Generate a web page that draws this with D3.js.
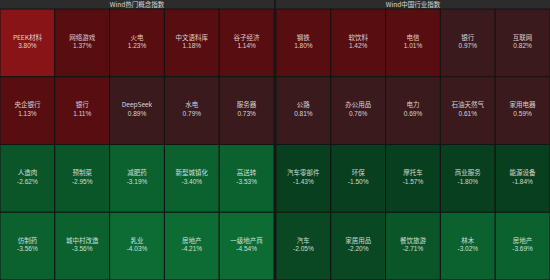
<!doctype html>
<html>
<head>
    <meta http-equiv="Content-type" content="text/html; charset=utf-8"/>
    <script src="https://d3js.org/d3.v7.min.js"></script>
    <style>
        body { margin: 0; background: #1a1a1a; }
        svg { display: block; }
        text { font-family: "Noto Sans CJK SC", "Noto Sans", sans-serif; }
        text.val { font-family: "Liberation Sans", "DejaVu Sans", sans-serif; }
    </style>
</head>
<body>
    <svg width="550" height="280"></svg>

    <script>
        // panel titles
        var titles = ["Wind热门概念指数", "Wind中国行业指数"];

        // left panel: hot concept indexes
        var conceptNames = ["PEEK材料", "网络游戏", "火电", "中文语料库", "谷子经济",
                            "央企银行", "银行", "DeepSeek", "水电", "服务器",
                            "人造肉", "预制菜", "减肥药", "新型城镇化", "高送转",
                            "仿制药", "城中村改造", "乳业", "房地产", "一级地产商"];
        var conceptValues = [3.80, 1.37, 1.23, 1.18, 1.14,
                             1.13, 1.11, 0.89, 0.79, 0.73,
                             -2.62, -2.95, -3.19, -3.40, -3.53,
                             -3.56, -3.56, -4.03, -4.21, -4.54];

        // right panel: industry indexes
        var industryNames = ["钢铁", "软饮料", "电信", "银行", "互联网",
                             "公路", "办公用品", "电力", "石油天然气", "家用电器",
                             "汽车零部件", "环保", "摩托车", "商业服务", "能源设备",
                             "汽车", "家居用品", "餐饮旅游", "林木", "房地产"];
        var industryValues = [1.80, 1.42, 1.01, 0.97, 0.82,
                              0.81, 0.76, 0.69, 0.61, 0.59,
                              -1.43, -1.50, -1.57, -1.80, -1.84,
                              -2.05, -2.20, -2.71, -3.02, -3.69];

        var W = 550, H = 280, titleH = 9, nCols = 5, nRows = 4;

        var svg = d3.select("svg");

        var color = d3.scaleThreshold()
            .domain([-4, -3, -2.5, -2, 0, 1, 3])
            .range(["#0d6c33", "#0b622e", "#0a5628", "#094823", "#083f1e", "#3b1a1e", "#580d11", "#881417"]);

        var panelX = d3.scaleBand().domain([0, 1]).range([0, W]).paddingInner(0.007);
        var rowY = d3.scaleBand().domain(d3.range(nRows)).range([titleH, H]);

        var panels = [
            {title: titles[0], names: conceptNames, values: conceptValues},
            {title: titles[1], names: industryNames, values: industryValues}
        ];

        panels.forEach(function(p, pi) {
            var x0 = panelX(pi), pw = panelX.bandwidth();
            var colX = d3.scaleBand().domain(d3.range(nCols)).range([x0, x0 + pw]);

            var g = svg.append("g");

            g.append("rect")
                .attr("x", x0).attr("y", 0)
                .attr("width", pw).attr("height", titleH)
                .attr("fill", "#2c2c2c");

            g.append("text")
                .attr("x", x0 + pw / 2).attr("y", titleH / 2 + 0.5)
                .attr("text-anchor", "middle")
                .attr("dominant-baseline", "middle")
                .attr("font-size", "6.5px")
                .attr("fill", "#d8d8d8")
                .text(p.title);

            var cells = g.selectAll("g.cell")
                .data(p.values.map(function(v, i) { return {name: p.names[i], value: v, i: i}; }))
                .enter()
                .append("g")
                .attr("class", "cell")
                .attr("transform", function(d) {
                    return "translate(" + colX(d.i % nCols) + "," + rowY(Math.floor(d.i / nCols)) + ")";
                });

            cells.append("rect")
                .attr("width", colX.bandwidth())
                .attr("height", rowY.bandwidth())
                .attr("fill", function(d) { return color(d.value); })
                .attr("stroke", "#141414")
                .attr("stroke-width", 1);

            cells.append("text")
                .attr("x", colX.bandwidth() / 2)
                .attr("y", rowY.bandwidth() / 2 - 5)
                .attr("text-anchor", "middle")
                .attr("dominant-baseline", "middle")
                .attr("font-size", "6.5px")
                .attr("fill", "rgba(255,255,255,0.8)")
                .text(function(d) { return d.name; });

            cells.append("text")
                .attr("class", "val")
                .attr("x", colX.bandwidth() / 2)
                .attr("y", rowY.bandwidth() / 2 + 3.5)
                .attr("text-anchor", "middle")
                .attr("dominant-baseline", "middle")
                .attr("font-size", "6.5px")
                .attr("fill", "rgba(255,255,255,0.8)")
                .text(function(d) { return d.value.toFixed(2) + "%"; });
        });
    </script>
</body>
</html>
